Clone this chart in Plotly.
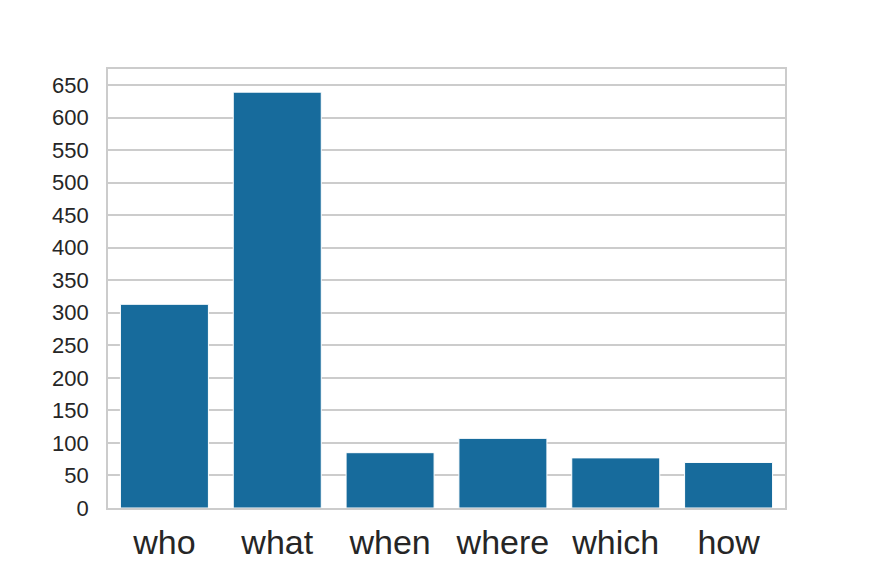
import plotly.graph_objects as go

categories = ["who", "what", "when", "where", "which", "how"]
counts = [313, 639, 85, 107, 77, 70]
y_ticks = list(range(0, 651, 50))

fig = go.Figure(go.Bar(
    x=categories, y=counts,
    marker=dict(color="#176b9c", line=dict(color="white", width=1)),
    width=0.78,
))

fig.update_layout(
    width=872, height=581,
    margin=dict(l=100, r=95, t=61, b=81),
    paper_bgcolor="white", plot_bgcolor="white",
    font=dict(family="Liberation Sans, Arial, sans-serif", color="#262626"),
    showlegend=False,
)
fig.update_xaxes(
    range=[-0.5, 5.5], showgrid=False,
    showline=True, linecolor="#cccccc", linewidth=1.8, mirror=True,
    tickfont=dict(size=34), ticks="", ticklabelstandoff=3,
)
fig.update_yaxes(
    range=[0, 674.6], tickvals=y_ticks, ticktext=[str(v) for v in y_ticks],
    showgrid=True, gridcolor="#cccccc", gridwidth=1.6,
    showline=True, linecolor="#cccccc", linewidth=1.8, mirror=True,
    zeroline=False,
    tickfont=dict(size=22), ticks="", ticklabelstandoff=13,
)

fig.write_html("out.html")
